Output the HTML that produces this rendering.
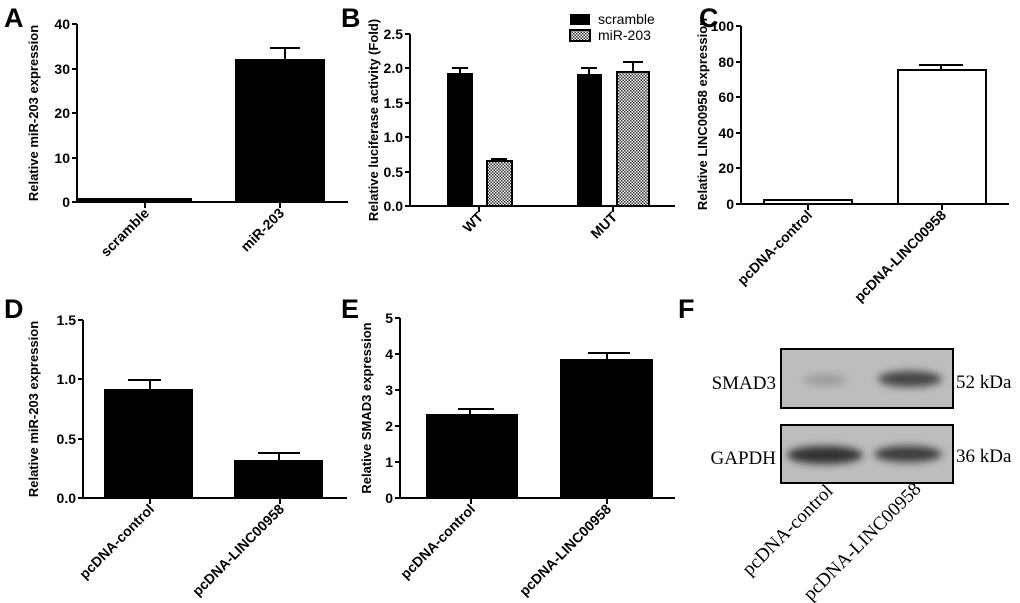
<!DOCTYPE html>
<html><head><meta charset="utf-8"><style>
html,body{margin:0;padding:0;background:#fff;}
svg{display:block;}
.t{font-family:"Liberation Sans",sans-serif;font-weight:bold;font-size:14px;fill:#000;}
.yl{font-family:"Liberation Sans",sans-serif;font-weight:bold;font-size:13px;fill:#000;}
.xl{font-family:"Liberation Sans",sans-serif;font-weight:bold;font-size:14px;fill:#000;}
.P{font-family:"Liberation Sans",sans-serif;font-weight:bold;font-size:27px;fill:#000;}
.s{font-family:"Liberation Serif",serif;font-size:19px;fill:#000;}
</style></head><body>
<svg width="1020" height="603" viewBox="0 0 1020 603" xmlns="http://www.w3.org/2000/svg">
<defs>
<pattern id="h" width="3" height="3" patternUnits="userSpaceOnUse"><rect width="3" height="3" fill="#fff"/><rect width="1.5" height="1.5" fill="#333"/><rect x="1.5" y="1.5" width="1.5" height="1.5" fill="#333"/></pattern>
<filter id="b"><feGaussianBlur stdDeviation="4"/></filter>
</defs>
<g stroke="#000" stroke-width="2" fill="none">
<path d="M77 24V202H348M72 24H77M72 69H77M72 113H77M72 158H77M72 202H77M145 202V208M280 202V208"/>
<path d="M410 34V206H675M405 34H410M405 68H410M405 103H410M405 137H410M405 172H410M405 206H410M479 206V212M613 206V212"/>
<path d="M741 26V204H1009M736 26H741M736 62H741M736 97H741M736 133H741M736 168H741M736 204H741M808 204V210M942 204V210"/>
<path d="M83 320V498H347M78 320H83M78 379H83M78 439H83M78 498H83M150 498V504M280 498V504"/>
<path d="M400 318V498H675M395 318H400M395 354H400M395 390H400M395 426H400M395 462H400M395 498H400M471 498V504M607 498V504"/>
</g>
<g fill="#000">
<rect x="78" y="198" width="114" height="4"/>
<rect x="235" y="59" width="90" height="143"/>
<rect x="447" y="73" width="26" height="133"/>
<rect x="577" y="74" width="25" height="132"/>
<rect x="104" y="389" width="89" height="109"/>
<rect x="234" y="460" width="89" height="38"/>
<rect x="426" y="414" width="92" height="84"/>
<rect x="560" y="359" width="93" height="139"/>
<rect x="570" y="14" width="20" height="11"/>
</g>
<g stroke="#000" stroke-width="2" fill="url(#h)">
<rect x="487" y="161" width="25" height="45"/>
<rect x="617" y="72" width="32" height="134"/>
<rect x="570" y="30" width="20" height="11"/>
</g>
<g stroke="#000" stroke-width="2" fill="#fff">
<rect x="764" y="200" width="88" height="4"/>
<rect x="898" y="70" width="88" height="134"/>
</g>
<g stroke="#000" stroke-width="2">
<path d="M285 59V48M270 48H300"/>
<path d="M460 73V68M452 68H468"/>
<path d="M499 161V159M491 159H507"/>
<path d="M589 74V68M581 68H597"/>
<path d="M633 72V62M623 62H643"/>
<path d="M941 70V65M919 65H963"/>
<path d="M150 389V380M128 380H161"/>
<path d="M279 460V453M258 453H300"/>
<path d="M470 414V409M458 409H494"/>
<path d="M607 359V353M588 353H630"/>
</g>
<g class="t" text-anchor="end">
<text x="70" y="29">40</text><text x="70" y="74">30</text><text x="70" y="118">20</text><text x="70" y="163">10</text><text x="70" y="207">0</text>
<text x="403" y="39">2.5</text><text x="403" y="73">2.0</text><text x="403" y="108">1.5</text><text x="403" y="142">1.0</text><text x="403" y="177">0.5</text><text x="403" y="211">0.0</text>
<text x="734" y="31">100</text><text x="734" y="67">80</text><text x="734" y="102">60</text><text x="734" y="138">40</text><text x="734" y="173">20</text><text x="734" y="209">0</text>
<text x="76" y="325">1.5</text><text x="76" y="384">1.0</text><text x="76" y="444">0.5</text><text x="76" y="503">0.0</text>
<text x="393" y="323">5</text><text x="393" y="359">4</text><text x="393" y="395">3</text><text x="393" y="431">2</text><text x="393" y="467">1</text><text x="393" y="503">0</text>
</g>
<text class="yl" transform="translate(38,113) rotate(-90)" text-anchor="middle">Relative miR-203 expression</text>
<text class="yl" transform="translate(378,120) rotate(-90)" text-anchor="middle">Relative luciferase activity (Fold)</text>
<text class="yl" transform="translate(707,114) rotate(-90)" text-anchor="middle">Relative LINC00958 expression</text>
<text class="yl" transform="translate(38,409) rotate(-90)" text-anchor="middle">Relative miR-203 expression</text>
<text class="yl" transform="translate(371,408) rotate(-90)" text-anchor="middle">Relative SMAD3 expression</text>
<g class="xl" text-anchor="end">
<text transform="translate(150,214) rotate(-45)">scramble</text>
<text transform="translate(285,214) rotate(-45)">miR-203</text>
<text transform="translate(484,218) rotate(-45)">WT</text>
<text transform="translate(618,218) rotate(-45)">MUT</text>
<text transform="translate(813,216) rotate(-45)">pcDNA-control</text>
<text transform="translate(947,216) rotate(-45)">pcDNA-LINC00958</text>
<text transform="translate(155,510) rotate(-45)">pcDNA-control</text>
<text transform="translate(285,510) rotate(-45)">pcDNA-LINC00958</text>
<text transform="translate(476,510) rotate(-45)">pcDNA-control</text>
<text transform="translate(612,510) rotate(-45)">pcDNA-LINC00958</text>
</g>
<text x="598" y="24" style="font-family:'Liberation Sans',sans-serif;font-size:14px">scramble</text>
<text x="598" y="40" style="font-family:'Liberation Sans',sans-serif;font-size:14px">miR-203</text>
<text class="P" x="4" y="27">A</text>
<text class="P" x="341" y="27">B</text>
<text class="P" x="699" y="27">C</text>
<text class="P" x="4" y="318">D</text>
<text class="P" x="341" y="318">E</text>
<text class="P" x="678" y="318">F</text>
<rect x="781" y="349" width="172" height="59" fill="#bdbdbd" stroke="#000" stroke-width="2"/>
<rect x="781" y="425" width="172" height="58" fill="#bdbdbd" stroke="#000" stroke-width="2"/>
<g filter="url(#b)">
<ellipse cx="825" cy="380" rx="22" ry="5" fill="#999"/>
<ellipse cx="910" cy="379" rx="32" ry="8" fill="#444"/>
<ellipse cx="825" cy="455" rx="38" ry="9" fill="#333"/>
<ellipse cx="908" cy="454" rx="34" ry="8" fill="#3a3a3a"/>
</g>
<text class="s" x="776" y="389" text-anchor="end">SMAD3</text>
<text class="s" x="776" y="464" text-anchor="end">GAPDH</text>
<text class="s" x="956" y="388">52 kDa</text>
<text class="s" x="956" y="462">36 kDa</text>
<text class="s" transform="translate(834,492) rotate(-45)" text-anchor="end">pcDNA-control</text>
<text class="s" transform="translate(922,490) rotate(-45)" text-anchor="end">pcDNA-LINC00958</text>
</svg>
</body></html>
